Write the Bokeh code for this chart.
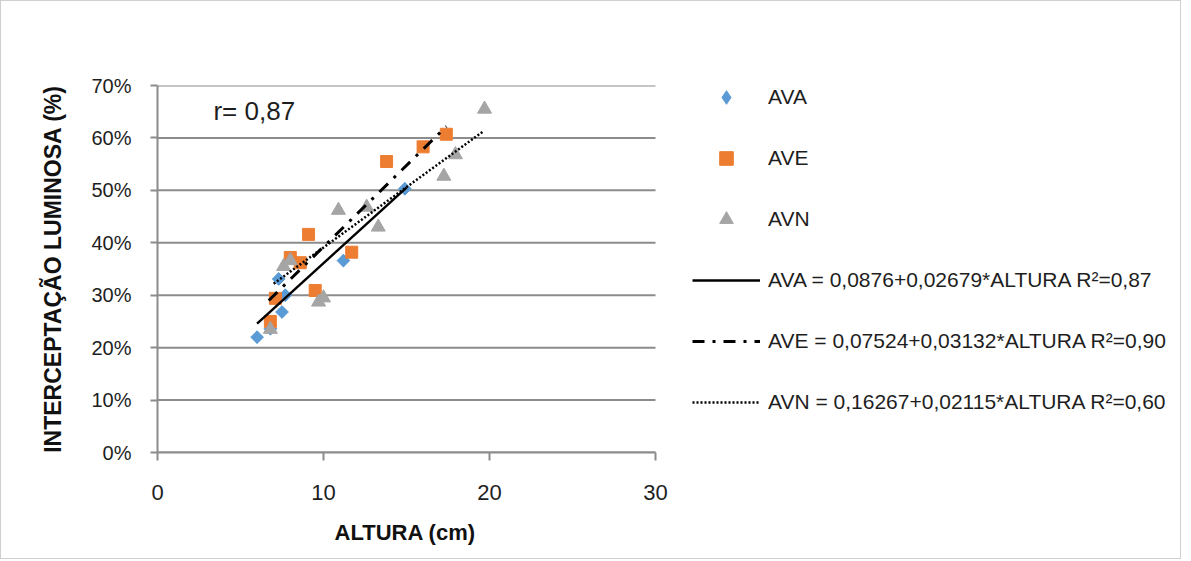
import math
from bokeh.plotting import figure
from bokeh.models import Range1d, NumeralTickFormatter, FixedTicker, Legend, LegendItem, Label, Title
from bokeh.embed import file_html
from bokeh.resources import INLINE

# ---- data ----
ava_x = [6.0, 6.8, 7.5, 7.3, 7.7, 11.2, 14.9]
ava_y = [0.220, 0.236, 0.268, 0.331, 0.300, 0.366, 0.503]

ave_x = [6.8, 7.1, 8.0, 8.6, 9.1, 9.5, 11.7, 13.8, 16.0, 17.4]
ave_y = [0.250, 0.294, 0.372, 0.362, 0.416, 0.309, 0.382, 0.555, 0.583, 0.607]

avn_x = [6.8, 7.6, 8.0, 9.7, 10.0, 10.9, 12.6, 13.3, 17.25, 17.95, 19.7]
avn_y = [0.235, 0.355, 0.366, 0.287, 0.295, 0.462, 0.468, 0.430, 0.527, 0.568, 0.655]

fit_ava_x = [6.0, 15.0]
fit_ava_y = [0.246, 0.505]
fit_ave_x = [6.7, 17.4]
fit_ave_y = [0.290, 0.622]
fit_avn_x = [7.0, 19.6]
fit_avn_y = [0.322, 0.612]

x_ticks = [0, 10, 20, 30]
y_ticks = [0.0, 0.1, 0.2, 0.3, 0.4, 0.5, 0.6, 0.7]

labels = ["AVA", "AVE", "AVN",
          "AVA = 0,0876+0,02679*ALTURA R²=0,87",
          "AVE = 0,07524+0,03132*ALTURA R²=0,90",
          "AVN = 0,16267+0,02115*ALTURA R²=0,60"]

BLUE = "#5B9BD5"
ORANGE = "#ED7D31"
GRAY = "#A5A5A5"
AXC = "#8c8c8c"
FONT = "Liberation Sans"
TXT = "#1e1e1e"

W, H = 1181, 559
LEFT, TOP, FW, FH = 156, 84, 498, 368
# frame runs to the right edge so the legend (drawn inside the frame) is not clipped;
# the x scale keeps 0..30 over FW pixels
x_end = x_ticks[-1] * (W - LEFT) / FW
p = figure(width=W, height=H, output_backend="svg", toolbar_location=None,
           x_range=Range1d(0, x_end), y_range=Range1d(0, y_ticks[-1]),
           min_border_left=LEFT, min_border_right=0,
           min_border_top=TOP, min_border_bottom=H - TOP - FH)
p.styles = {"border": "1px solid #cfcfcf"}
p.outline_line_color = None
p.background_fill_color = "white"
p.border_fill_color = "white"

# axes
p.xaxis.ticker = FixedTicker(ticks=x_ticks)
p.yaxis.ticker = FixedTicker(ticks=y_ticks)
p.xaxis.bounds = (x_ticks[0], x_ticks[-1])
p.yaxis.formatter = NumeralTickFormatter(format="0%")
for ax in (p.xaxis, p.yaxis):
    ax.axis_line_color = AXC
    ax.axis_line_width = 2
    ax.major_tick_line_color = AXC
    ax.major_tick_line_width = 2
    ax.major_tick_in = 0
    ax.minor_tick_line_color = None
    ax.major_label_text_font = FONT
    ax.major_label_text_color = TXT
    ax.axis_label_text_font = FONT
    ax.axis_label_text_font_style = "bold"
    ax.axis_label_text_color = "#111111"
p.xaxis.major_tick_out = 8
p.yaxis.major_tick_out = 7
p.xaxis.major_label_text_font_size = "22px"
p.yaxis.major_label_text_font_size = "20px"
p.xaxis.major_label_standoff = 24
p.yaxis.major_label_standoff = 19
p.yaxis.axis_label = "INTERCEPTAÇÃO LUMINOSA (%)"
p.yaxis.axis_label_text_font_size = "23px"
p.yaxis.axis_label_standoff = 22

# x-axis title centred under the 0..30 span
p.add_layout(Title(text="ALTURA (cm)", align="left", offset=177, standoff=31,
                   vertical_align="bottom", text_baseline="middle",
                   text_font=FONT, text_font_size="22px", text_font_style="bold",
                   text_color="#111111"), "below")

# horizontal gridlines limited to the 0..30 axis span
p.xgrid.visible = False
p.ygrid.visible = False
p.segment(x0=[x_ticks[0]] * len(y_ticks), x1=[x_ticks[-1]] * len(y_ticks),
          y0=y_ticks, y1=y_ticks, line_color=AXC, line_width=2)

# scatter series (AVA diamond: Bokeh diamond underneath for the legend key,
# rotated square on top for the plotted points)
r_ava_key = p.scatter(ava_x, ava_y, marker="diamond", size=12,
                      fill_color=BLUE, line_color=BLUE)
r_ava = p.scatter(ava_x, ava_y, marker="square", angle=math.pi / 4, size=9,
                  fill_color=BLUE, line_color=BLUE)
r_ave = p.scatter(ave_x, ave_y, marker="square", size=12,
                  fill_color=ORANGE, line_color=ORANGE)
r_avn = p.scatter(avn_x, avn_y, marker="triangle", size=14,
                  fill_color=GRAY, line_color=GRAY)

# trend lines
l_ava = p.line(fit_ava_x, fit_ava_y, line_color="black", line_width=2.4)
l_ave = p.line(fit_ave_x, fit_ave_y, line_color="black", line_width=3, line_dash="12 8 3 8")
l_avn = p.line(fit_avn_x, fit_avn_y, line_color="black", line_width=2.5, line_dash="2 2")

p.add_layout(Label(x=3.37, y=0.652, text="r= 0,87", text_font=FONT, text_font_size="26px",
                   text_color=TXT, text_baseline="middle", text_align="left"))

legend = Legend(items=[LegendItem(label=labels[0], renderers=[r_ava_key]),
                       LegendItem(label=labels[1], renderers=[r_ave]),
                       LegendItem(label=labels[2], renderers=[r_avn]),
                       LegendItem(label=labels[3], renderers=[l_ava]),
                       LegendItem(label=labels[4], renderers=[l_ave]),
                       LegendItem(label=labels[5], renderers=[l_avn])],
                location=(535, 33), glyph_width=68, glyph_height=34, label_height=34,
                spacing=27, label_standoff=8, padding=0, margin=0,
                border_line_color=None, background_fill_alpha=0,
                label_text_font=FONT, label_text_font_size="21px", label_text_color=TXT)
p.add_layout(legend)

open("out.html", "w").write(file_html(p, INLINE))
